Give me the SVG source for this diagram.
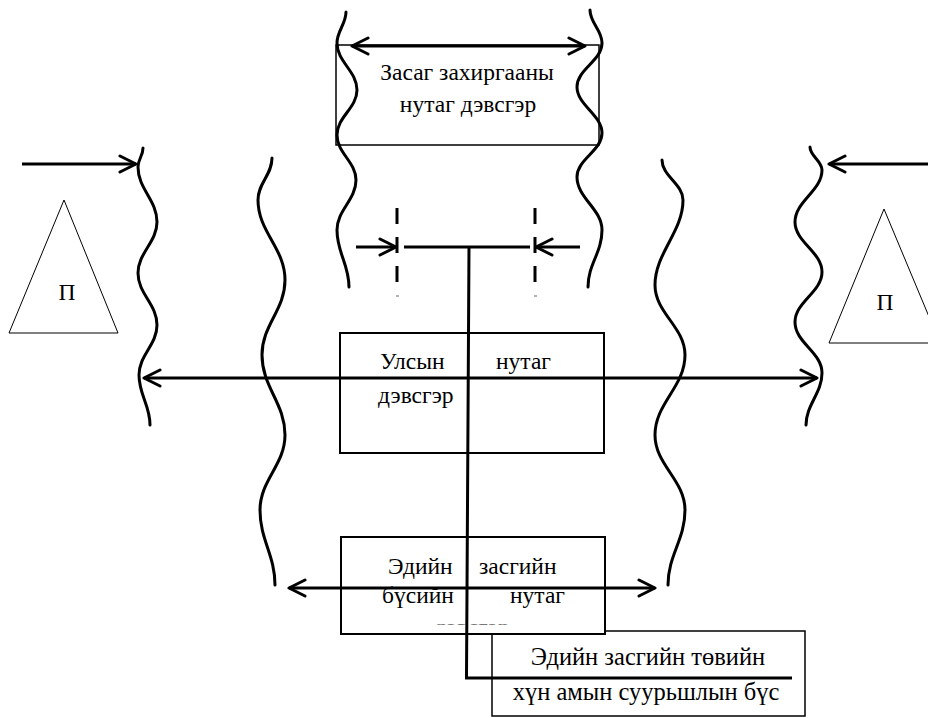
<svg xmlns="http://www.w3.org/2000/svg" width="928" height="718" viewBox="0 0 928 718">
<defs>
<marker id="arr" viewBox="-2 -2 20 20" markerWidth="20" markerHeight="20" refX="16" refY="8" markerUnits="userSpaceOnUse" orient="auto-start-reverse">
<path d="M0,0 L16,8 L0,16" fill="none" stroke="#000" stroke-width="3" stroke-linejoin="round" stroke-linecap="round"/>
</marker>
<clipPath id="clipLast" clipPathUnits="userSpaceOnUse"><rect x="420" y="622.5" width="110" height="2"/></clipPath>
</defs>
<style>
text{font-family:'Liberation Serif','Times New Roman',serif;font-size:23.5px;fill:#000}
.box{fill:#fff;stroke:#000;stroke-width:2}
.thin{fill:#fff;stroke:#000;stroke-width:1.5}
.tri{fill:#fff;stroke:#000;stroke-width:1}
.wave{fill:none;stroke:#000;stroke-width:3;stroke-linecap:round}
.ln{fill:none;stroke:#000;stroke-width:3}
.arrow{fill:none;stroke:#000;stroke-width:3;marker-end:url(#arr)}
.arrow2{fill:none;stroke:#000;stroke-width:3;marker-start:url(#arr);marker-end:url(#arr)}
</style>
<rect width="928" height="718" fill="#fff"/>

<g id="tri-left">
<polygon class="tri" points="64,200 9,333 118,333"/>
<text x="67" y="300" text-anchor="middle">П</text>
</g>
<g id="tri-right">
<polygon class="tri" points="884,209 829,343 940,343"/>
<text x="885" y="310" text-anchor="middle">П</text>
</g>

<g id="top-box">
<rect class="thin" x="336" y="45" width="263" height="100"/>
<text x="467" y="80" text-anchor="middle">Засаг захиргааны</text>
<text x="468" y="112" text-anchor="middle">нутаг дэвсгэр</text>
</g>

<g id="center-box">
<rect class="thin" x="492" y="631" width="313" height="85"/>
<text x="648" y="665" text-anchor="middle" style="font-size:24.5px">Эдийн засгийн төвийн</text>
<text x="646" y="700" text-anchor="middle" style="font-size:24.5px">хүн амын суурьшлын бүс</text>
</g>

<g id="state-box">
<rect class="box" x="340" y="333" width="264" height="120"/>
<text x="380" y="369">Улсын</text>
<text x="496" y="369">нутаг</text>
<text x="378" y="403">дэвсгэр</text>
</g>

<g id="econ-box">
<rect class="box" x="341" y="537" width="264" height="97"/>
<text x="388" y="574">Эдийн</text>
<text x="479" y="574">засгийн</text>
<text x="382" y="603">бүсийн</text>
<text x="510" y="603">нутаг</text>
<text x="472" y="635" text-anchor="middle" clip-path="url(#clipLast)">дэвсгэр</text>
</g>

<g id="boundaries">
<path class="wave" d="M346,12 C346,24 337,31 337,43 C337,62 357,71 357,90 C357,108 337,117 337,135 C337,153 356,162 356,180 C356,200 337,210 337,230 C337,253 349,264 349,287"/>
<path class="wave" d="M590,10 C590,23 602,30 602,43 C602,61 577,69 577,87 C577,105 602,115 602,133 C602,151 577,159 577,177 C577,198 602,209 602,230 C602,253 588,264 588,287"/>
<path class="wave" d="M143,148 C143,156 138,159 138,167 C138,189 157,200 157,222 C157,242 138,253 138,273 C138,294 157,304 157,325 C157,345 139,355 139,375 C139,395 150,405 150,425"/>
<path class="wave" d="M810,147 C810,156 822,161 822,170 C822,191 795,201 795,222 C795,242 822,252 822,272 C822,292 795,302 795,322 C795,343 822,352 822,373 C822,393 806,405 806,425"/>
<path class="wave" d="M272,158 C272,175 258,183 258,200 C258,232 285,248 285,280 C285,310 262,325 262,355 C262,387 285,403 285,435 C285,465 260,480 260,510 C260,540 275,555 275,585"/>
<path class="wave" d="M662,160 C662,176 683,184 683,200 C683,232 655,253 655,285 C655,313 685,327 685,355 C685,387 655,403 655,435 C655,465 685,480 685,510 C685,540 668,555 668,585"/>
</g>

<g id="connectors">
<path class="arrow2" d="M352,46 L585,46"/>
<path class="arrow" d="M22,164 L136,164"/>
<path class="arrow" d="M928,164 L829,164"/>
<path class="ln" d="M397,208 L397,282 M535,208 L535,282" stroke-dasharray="16 13"/>
<path d="M396,296 L399,296 M534,296 L537,296" stroke="#999" stroke-width="1.5"/>
<path class="arrow" d="M356,247 L396,247"/>
<path class="arrow" d="M580,247 L536,247"/>
<path class="ln" d="M404,247 L530,247"/>
<path class="arrow2" d="M144,378 L817,378"/>
<path class="arrow2" d="M289,588 L655,588"/>
<path class="ln" d="M469,247 L466.5,678 L792,678"/>
</g>
</svg>
